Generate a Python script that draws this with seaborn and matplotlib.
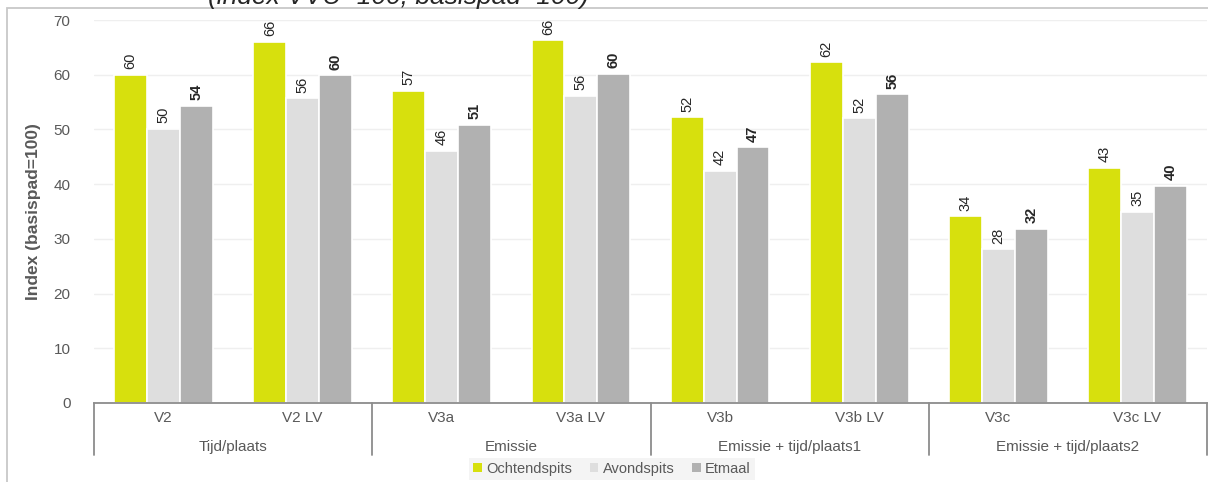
import pandas as pd
import numpy as np
import matplotlib.pyplot as plt
import seaborn as sns
from matplotlib.patches import Rectangle, Patch
from matplotlib.transforms import blended_transform_factory

# data
varianten = ['V2', 'V2 LV', 'V3a', 'V3a LV', 'V3b', 'V3b LV', 'V3c', 'V3c LV']
groepen = ['Tijd/plaats', 'Emissie', 'Emissie + tijd/plaats1', 'Emissie + tijd/plaats2']
periodes = ['Ochtendspits', 'Avondspits', 'Etmaal']
ochtendspits = [60.0, 66.0, 57.1, 66.3, 52.2, 62.3, 34.1, 43.0]
avondspits = [50.1, 55.7, 46.1, 56.2, 42.4, 52.0, 28.1, 35.0]
etmaal = [54.3, 59.9, 50.8, 60.2, 46.7, 56.4, 31.8, 39.7]

kleuren = ['#d7e00d', '#dedede', '#b1b1b1']
grijs = '#595959'

df = pd.DataFrame({
    'variant': varianten * 3,
    'periode': np.repeat(periodes, len(varianten)),
    'waarde': ochtendspits + avondspits + etmaal,
})

sns.set_style('white')
plt.rcParams['font.family'] = ['Liberation Sans', 'DejaVu Sans']

fig = plt.figure(figsize=(12.08, 4.82), dpi=100)
ax = fig.add_axes([94 / 1208, 1 - 403 / 482, 1113 / 1208, 383 / 482])

sns.barplot(data=df, x='variant', y='waarde', hue='periode', order=varianten,
            hue_order=periodes, palette=kleuren, width=0.71, edgecolor='white',
            linewidth=1.2, saturation=1, legend=False, ax=ax)

# waardelabels boven de staven
for i, cont in enumerate(ax.containers):
    ax.bar_label(cont, labels=[f'{v:.0f}' for v in cont.datavalues], rotation=90,
                 padding=4, fontsize=10.5, color='#262626',
                 fontweight='bold' if i == 2 else 'normal')

ax.set_ylim(0, 70)
ax.set_xlim(-0.5, 7.5)
ax.set_yticks(range(0, 71, 10))
ax.tick_params(axis='y', labelsize=11, colors=grijs, length=0, pad=17)
ax.yaxis.grid(True, color='#efefef', linewidth=1)
ax.set_axisbelow(True)
ax.set_xticks([])
ax.set_xlabel('')
ax.set_ylabel('Index (basispad=100)', fontsize=12.5, fontweight='bold', color=grijs, labelpad=9)
for s in ['top', 'right', 'left']:
    ax.spines[s].set_visible(False)
ax.spines['bottom'].set_color('#8c8c8c')
ax.spines['bottom'].set_linewidth(1.3)

# x-as in twee niveaus
tr = blended_transform_factory(ax.transData, ax.transAxes)
for i, v in enumerate(varianten):
    ax.text(i, -15 / 383, v, transform=tr, ha='center', va='center', fontsize=11, color=grijs)
for g, naam in enumerate(groepen):
    ax.text(2 * g + 0.5, -44 / 383, naam, transform=tr, ha='center', va='center',
            fontsize=11, color=grijs)
for b in [-0.5, 1.5, 3.5, 5.5, 7.5]:
    ax.plot([b, b], [0, -52 / 383], transform=tr, color='#8c8c8c', linewidth=1.3,
            clip_on=False)

# legenda
handles = [Patch(facecolor=c, edgecolor='none') for c in kleuren]
leg = fig.legend(handles, periodes, loc='center', bbox_to_anchor=(612 / 1208, 1 - 469 / 482),
                 ncol=3, frameon=True, fontsize=10.5, handlelength=0.6, handleheight=0.6,
                 handletextpad=0.3, columnspacing=1.2, borderpad=0.3, fancybox=False)
leg.get_frame().set_facecolor('#f2f2f2')
leg.get_frame().set_edgecolor('none')
for t in leg.get_texts():
    t.set_color(grijs)

# kader en afgesneden titel
fig.patches.append(Rectangle((7 / 1208, -0.1), 1.2, 1 - 8 / 482 + 0.1, transform=fig.transFigure,
                             fill=False, edgecolor='#c8c8c8', linewidth=1.3))
fig.text(398 / 1208, 1 - 4 / 482, '(index VVU=100; basispad=100)', ha='center', va='baseline',
         fontsize=19, fontstyle='italic', color='#262626')

plt.savefig('out.png', dpi=100)
